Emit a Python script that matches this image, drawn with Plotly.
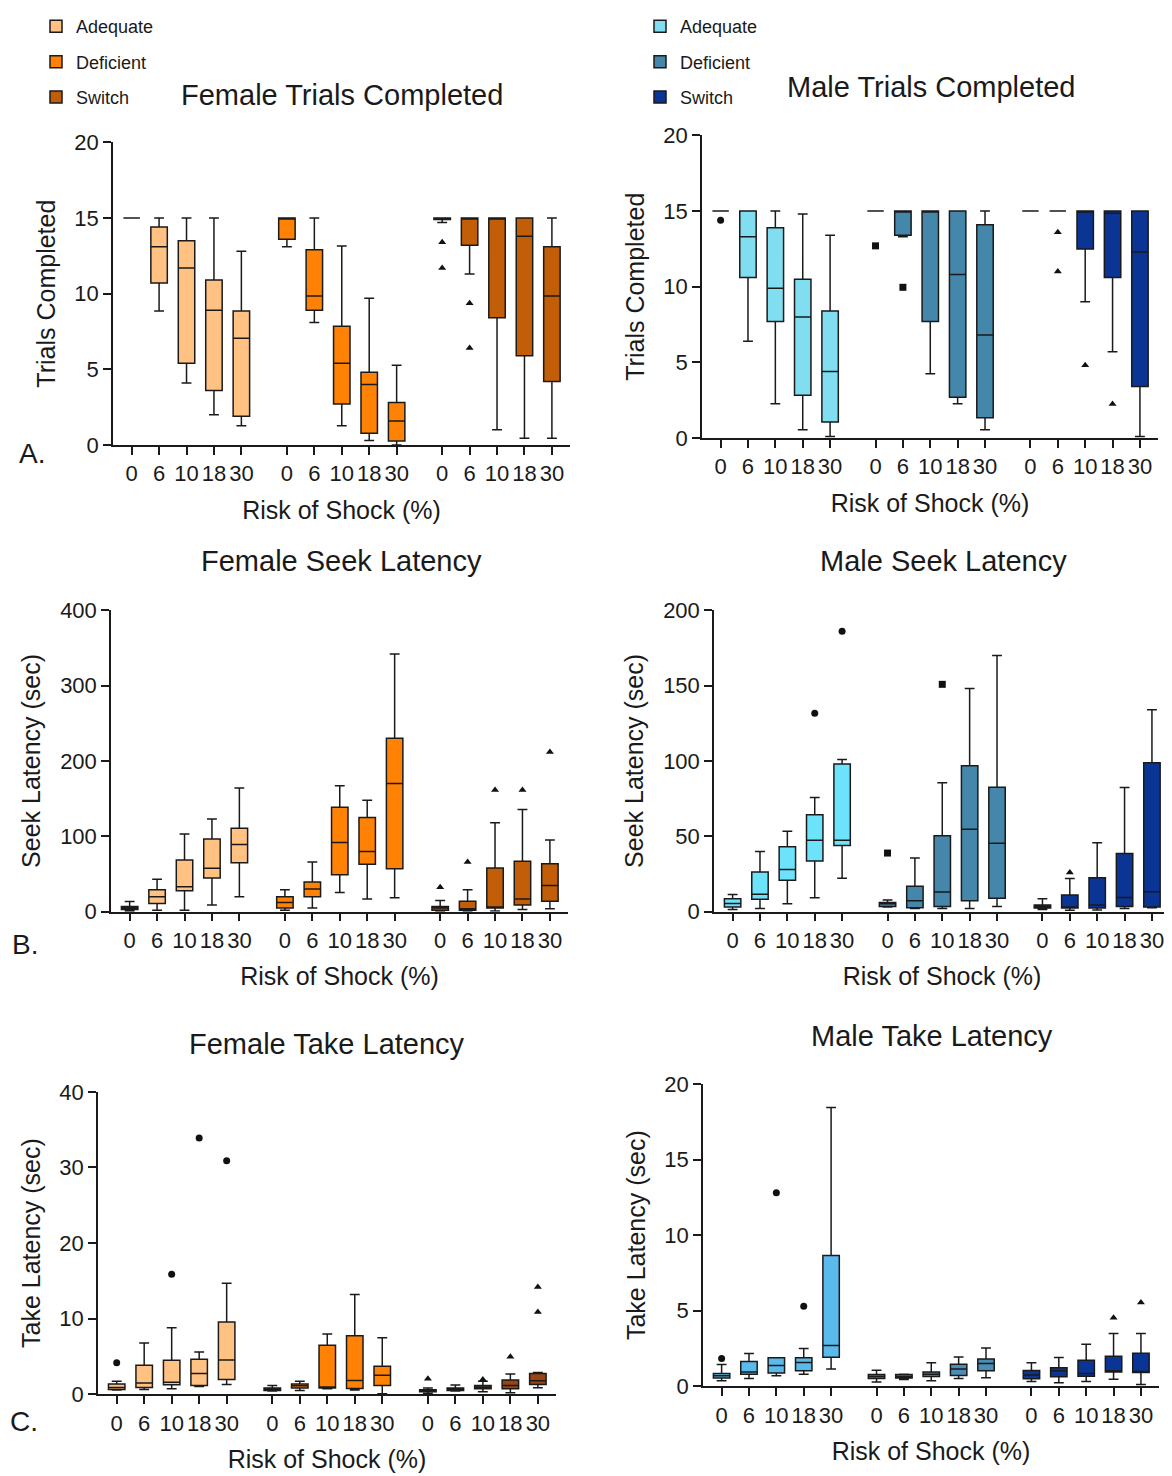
import plotly.graph_objects as go

# page body has an 8px default margin; figure is sized so it fills the 1172x1476 window
OFF = 8
W, H = 1172 - OFF, 1476 - OFF

RISK_LABELS = ["0", "6", "10", "18", "30"]
GROUPS = ["Adequate", "Deficient", "Switch"]

# Each row: (lower whisker, Q1, median, Q3, upper whisker) for risk 0, 6, 10, 18, 30 %
# ---- Female Trials Completed
FT_ADEQUATE = [(15, 15, 15, 15, 15), (8.86, 10.7, 13.1, 14.4, 15), (4.1, 5.4, 11.7, 13.5, 15),
               (2.0, 3.6, 8.9, 10.9, 15), (1.27, 1.9, 7.06, 8.86, 12.8)]
FT_DEFICIENT = [(13.1, 13.6, 15, 15, 15), (8.1, 8.9, 9.85, 12.9, 15), (1.27, 2.7, 5.4, 7.85, 13.15),
                (0.3, 0.77, 4.0, 4.8, 9.7), (0.0, 0.26, 1.58, 2.8, 5.26)]
FT_SWITCH = [(14.7, 14.9, 15, 15, 15), (11.3, 13.2, 15, 15, 15), (1.0, 8.4, 15, 15, 15),
             (0.44, 5.9, 13.8, 15, 15), (0.44, 4.2, 9.85, 13.1, 15)]
FT_OUTLIERS = [("Switch", 0, 13.4), ("Switch", 0, 11.7), ("Switch", 1, 9.36), ("Switch", 1, 6.4)]

# ---- Male Trials Completed
MT_ADEQUATE = [(15, 15, 15, 15, 15), (6.4, 10.6, 13.3, 15, 15), (2.26, 7.7, 9.9, 13.9, 15),
               (0.55, 2.83, 8.0, 10.5, 14.8), (0.1, 1.05, 4.4, 8.4, 13.4)]
MT_DEFICIENT = [(15, 15, 15, 15, 15), (13.3, 13.4, 15, 15, 15), (4.25, 7.7, 15, 15, 15),
                (2.26, 2.7, 10.8, 15, 15), (0.55, 1.34, 6.8, 14.1, 15)]
MT_SWITCH = [(15, 15, 15, 15, 15), (15, 15, 15, 15, 15), (9.0, 12.5, 15, 15, 15),
             (5.7, 10.6, 14.85, 15, 15), (0.1, 3.4, 12.3, 15, 15)]
MT_OUTLIERS = [("Adequate", 0, 14.4), ("Deficient", 0, 12.7), ("Deficient", 1, 9.96),
               ("Switch", 1, 13.6), ("Switch", 1, 11.0), ("Switch", 2, 4.8), ("Switch", 3, 2.24)]

# ---- Female Seek Latency
FS_ADEQUATE = [(1, 3, 5, 7, 13.6), (2, 11, 20, 29, 43), (2, 27.7, 33, 68.5, 103),
               (8.8, 44.8, 57.5, 96.6, 123), (19.8, 65, 89, 110.6, 164)]
FS_DEFICIENT = [(2, 4.8, 12.3, 19.8, 29), (4.8, 19.8, 30, 39.5, 66), (25.5, 49, 91.7, 138.7, 167),
                (17, 63, 80, 125, 148), (18.4, 57, 170, 230, 342)]
FS_SWITCH = [(1, 2, 4.8, 7, 15), (1, 2, 4, 14, 29), (1, 4.8, 6, 58, 118),
             (3, 8.8, 17, 67, 135.6), (4, 14, 34.7, 63.6, 95)]
FS_OUTLIERS = [("Switch", 0, 32.5), ("Switch", 1, 66), ("Switch", 2, 161.5),
               ("Switch", 3, 161.5), ("Switch", 4, 212)]

# ---- Male Seek Latency
MS_ADEQUATE = [(1.5, 3.1, 5.5, 8.6, 11.4), (2.2, 8.3, 11.6, 26.3, 40), (5.3, 20.9, 28, 43, 53.3),
               (9.2, 33.6, 47.4, 64.3, 75.7), (22.2, 43.9, 47.4, 98, 101)]
MS_DEFICIENT = [(3.1, 3.5, 5.3, 6.1, 7.7), (2.2, 2.6, 7.2, 16.9, 35.6), (2.2, 3.5, 13, 50.3, 85.6),
                (2.2, 7.2, 54.7, 96.8, 148), (3.5, 9, 45.4, 82.5, 170)]
MS_SWITCH = [(1.5, 2.4, 3.5, 4.4, 8.6), (0.9, 2.4, 3.1, 11, 22), (1.1, 2.4, 4.4, 22.6, 45.7),
             (2.2, 3.5, 9.4, 38.6, 82.3), (2.6, 3.1, 13.2, 98.8, 134)]
MS_OUTLIERS = [("Adequate", 3, 131.7), ("Adequate", 4, 186), ("Deficient", 0, 38.9),
               ("Deficient", 2, 150.8), ("Switch", 1, 26)]

# ---- Female Take Latency
FK_ADEQUATE = [(0.57, 0.66, 0.92, 1.36, 1.75), (0.66, 0.92, 1.5, 3.86, 6.8), (0.75, 1.27, 1.6, 4.5, 8.8),
               (1.05, 1.18, 2.76, 4.65, 5.6), (1.3, 1.97, 4.56, 9.56, 14.7)]
FK_DEFICIENT = [(0.44, 0.53, 0.66, 0.83, 1.18), (0.53, 0.83, 1.14, 1.36, 1.75), (0.75, 0.83, 0.96, 6.5, 8.0),
                (0.57, 0.79, 1.84, 7.76, 13.2), (0.09, 1.18, 2.54, 3.73, 7.5)]
FK_SWITCH = [(0.13, 0.35, 0.48, 0.61, 0.83), (0.44, 0.53, 0.66, 0.83, 1.23), (0.35, 0.75, 0.96, 1.18, 1.75),
             (0.22, 0.75, 1.18, 1.89, 2.68), (0.88, 1.3, 1.8, 2.76, 2.9)]
FK_OUTLIERS = [("Adequate", 0, 4.17), ("Adequate", 2, 15.9), ("Adequate", 3, 33.9), ("Adequate", 4, 30.9),
               ("Switch", 0, 2.06), ("Switch", 2, 1.97), ("Switch", 3, 4.96),
               ("Switch", 4, 14.2), ("Switch", 4, 10.9)]

# ---- Male Take Latency
MK_ADEQUATE = [(0.37, 0.55, 0.7, 0.86, 1.45), (0.53, 0.81, 0.96, 1.64, 2.17), (0.7, 0.88, 1.38, 1.89, 1.89),
               (0.81, 1.03, 1.58, 1.89, 2.5), (1.16, 1.93, 2.7, 8.66, 18.44)]
MK_DEFICIENT = [(0.29, 0.53, 0.66, 0.79, 1.07), (0.46, 0.55, 0.66, 0.79, 0.81), (0.37, 0.66, 0.81, 0.96, 1.56),
                (0.53, 0.72, 1.16, 1.47, 1.95), (0.57, 1.03, 1.51, 1.82, 2.54)]
MK_SWITCH = [(0.33, 0.5, 0.75, 1.05, 1.56), (0.24, 0.64, 1.03, 1.23, 1.91), (0.33, 0.68, 0.86, 1.73, 2.79),
             (0.48, 0.96, 1.03, 2.0, 3.5), (0.13, 0.92, 0.95, 2.19, 3.5)]
MK_OUTLIERS = [("Adequate", 0, 1.84), ("Adequate", 2, 12.8), ("Adequate", 3, 5.3),
               ("Switch", 3, 4.54), ("Switch", 4, 5.55)]

# ---- styles
FEMALE_COLORS = ["#FFC282", "#FF8205", "#C25E08"]
FEMALE_TAKE_COLORS = ["#FFC282", "#FF8205", "#9A4414"]
MALE_TRIAL_COLORS = ["#80DEF0", "#4487AB", "#0B3594"]
MALE_SEEK_COLORS = ["#6CE3FA", "#4487AB", "#0B3594"]
MALE_TAKE_COLORS = ["#5BBAEC", "#4A8DB5", "#0B3594"]
FEMALE_SYMBOLS = {"Adequate": "circle", "Deficient": "circle", "Switch": "triangle-up"}
MALE_SYMBOLS = {"Adequate": "circle", "Deficient": "square", "Switch": "triangle-up"}

GROUP_STEP = 5.66
X_RANGE = [-0.68, 2 * GROUP_STEP + 4 + 0.66]
FONT = "Liberation Sans, Arial, Helvetica, sans-serif"
INK = "#1a1a1a"


def px_x(v):
    return (v - OFF) / W


def px_y(v):
    return 1 - (v - OFF) / H


# panel layout in window pixels: (x0, x1, y_top, y_bottom)
PANELS = [
    dict(stats=[FT_ADEQUATE, FT_DEFICIENT, FT_SWITCH], out=FT_OUTLIERS, colors=FEMALE_COLORS, sym=FEMALE_SYMBOLS,
         box=(113, 570, 136, 440), ymax=20, dtick=5, ytitle="Trials Completed",
         title="Female Trials Completed", tpos=(342, 88), legend="legend"),
    dict(stats=[MT_ADEQUATE, MT_DEFICIENT, MT_SWITCH], out=MT_OUTLIERS, colors=MALE_TRIAL_COLORS, sym=MALE_SYMBOLS,
         box=(702, 1158, 129, 433), ymax=20, dtick=5, ytitle="Trials Completed",
         title="Male Trials Completed", tpos=(931, 80), legend="legend2"),
    dict(stats=[FS_ADEQUATE, FS_DEFICIENT, FS_SWITCH], out=FS_OUTLIERS, colors=FEMALE_COLORS, sym=FEMALE_SYMBOLS,
         box=(111, 568, 606, 909), ymax=400, dtick=100, ytitle="Seek Latency (sec)",
         title="Female Seek Latency", tpos=(341, 557), legend=None),
    dict(stats=[MS_ADEQUATE, MS_DEFICIENT, MS_SWITCH], out=MS_OUTLIERS, colors=MALE_SEEK_COLORS, sym=MALE_SYMBOLS,
         box=(714, 1170, 606, 909), ymax=200, dtick=50, ytitle="Seek Latency (sec)",
         title="Male Seek Latency", tpos=(943, 557), legend=None),
    dict(stats=[FK_ADEQUATE, FK_DEFICIENT, FK_SWITCH], out=FK_OUTLIERS, colors=FEMALE_TAKE_COLORS, sym=FEMALE_SYMBOLS,
         box=(98, 556, 1090, 1394), ymax=40, dtick=10, ytitle="Take Latency (sec)",
         title="Female Take Latency", tpos=(327, 1042), legend=None),
    dict(stats=[MK_ADEQUATE, MK_DEFICIENT, MK_SWITCH], out=MK_OUTLIERS, colors=MALE_TAKE_COLORS, sym=MALE_SYMBOLS,
         box=(703, 1159, 1082, 1386), ymax=20, dtick=5, ytitle="Take Latency (sec)",
         title="Male Take Latency", tpos=(932, 1034), legend=None),
]

PANEL_LETTERS = [("A.", 32, 449), ("B.", 25, 942), ("C.", 24, 1421)]

fig = go.Figure()
layout = dict(
    width=W, height=H, margin=dict(l=0, r=0, t=0, b=0),
    paper_bgcolor="white", plot_bgcolor="white",
    font=dict(family=FONT, color=INK),
    boxmode="overlay", showlegend=True,
    annotations=[],
)

tickvals = [g * GROUP_STEP + i for g in range(3) for i in range(5)]
ticktext = RISK_LABELS * 3

for k, p in enumerate(PANELS):
    n = k + 1
    xname = "x" if n == 1 else f"x{n}"
    yname = "y" if n == 1 else f"y{n}"
    for g, name in enumerate(GROUPS):
        stats = p["stats"][g]
        xs = [g * GROUP_STEP + i for i in range(len(stats))]
        show = p["legend"] is not None
        tr = dict(
            x=xs,
            lowerfence=[s[0] for s in stats],
            q1=[s[1] for s in stats],
            median=[s[2] for s in stats],
            q3=[s[3] for s in stats],
            upperfence=[s[4] for s in stats],
            width=0.6, whiskerwidth=0.6,
            fillcolor=p["colors"][g],
            line=dict(color=INK, width=1.5),
            boxpoints=False, name=name,
            xaxis=xname, yaxis=yname,
            showlegend=show, legendgroup=f"{n}-{name}",
            hoverinfo="skip",
        )
        if show:
            tr["legend"] = p["legend"]
        fig.add_trace(go.Box(**tr))
    # outliers
    for name in GROUPS:
        g = GROUPS.index(name)
        pts = [(ri, v) for (gn, ri, v) in p["out"] if gn == name]
        if not pts:
            continue
        fig.add_trace(go.Scatter(
            x=[g * GROUP_STEP + ri for ri, _ in pts], y=[v for _, v in pts],
            mode="markers", xaxis=xname, yaxis=yname, showlegend=False,
            marker=dict(symbol=p["sym"][name], size=7, color="#111111"),
            hoverinfo="skip", cliponaxis=False,
        ))

    x0, x1, yt, yb = p["box"]
    axis_common = dict(showline=True, linecolor=INK, linewidth=1.5, ticks="outside", ticklen=8,
                       tickwidth=1.5, tickcolor=INK, showgrid=False, zeroline=False,
                       tickfont=dict(size=22, family=FONT, color=INK), automargin=False)
    layout[f"xaxis{n if n > 1 else ''}"] = dict(
        domain=[px_x(x0), px_x(x1)], range=X_RANGE, anchor=yname,
        tickmode="array", tickvals=tickvals, ticktext=ticktext,
        title=dict(text="Risk of Shock (%)", font=dict(size=25, family=FONT, color=INK), standoff=16),
        **axis_common)
    layout[f"yaxis{n if n > 1 else ''}"] = dict(
        domain=[px_y(yb), px_y(yt)], range=[0, p["ymax"]], anchor=xname,
        tick0=0, dtick=p["dtick"],
        title=dict(text=p["ytitle"], font=dict(size=25, family=FONT, color=INK), standoff=12),
        **axis_common)
    tx, ty = p["tpos"]
    layout["annotations"].append(dict(
        text=p["title"], x=px_x(tx), y=px_y(ty), xref="paper", yref="paper",
        xanchor="center", yanchor="middle", showarrow=False,
        font=dict(size=29, family=FONT, color=INK)))

for txt, px, py in PANEL_LETTERS:
    layout["annotations"].append(dict(
        text=txt, x=px_x(px), y=px_y(py), xref="paper", yref="paper",
        xanchor="center", yanchor="middle", showarrow=False,
        font=dict(size=28, family=FONT, color=INK)))

legend_common = dict(font=dict(size=18, family=FONT, color=INK), bgcolor="rgba(0,0,0,0)",
                     traceorder="grouped", tracegroupgap=9, itemwidth=30,
                     xanchor="left", yanchor="top")
layout["legend"] = dict(x=px_x(36), y=px_y(1), **legend_common)
layout["legend2"] = dict(x=px_x(640), y=px_y(1), **legend_common)

fig.update_layout(**layout)
fig.write_html("out.html")
